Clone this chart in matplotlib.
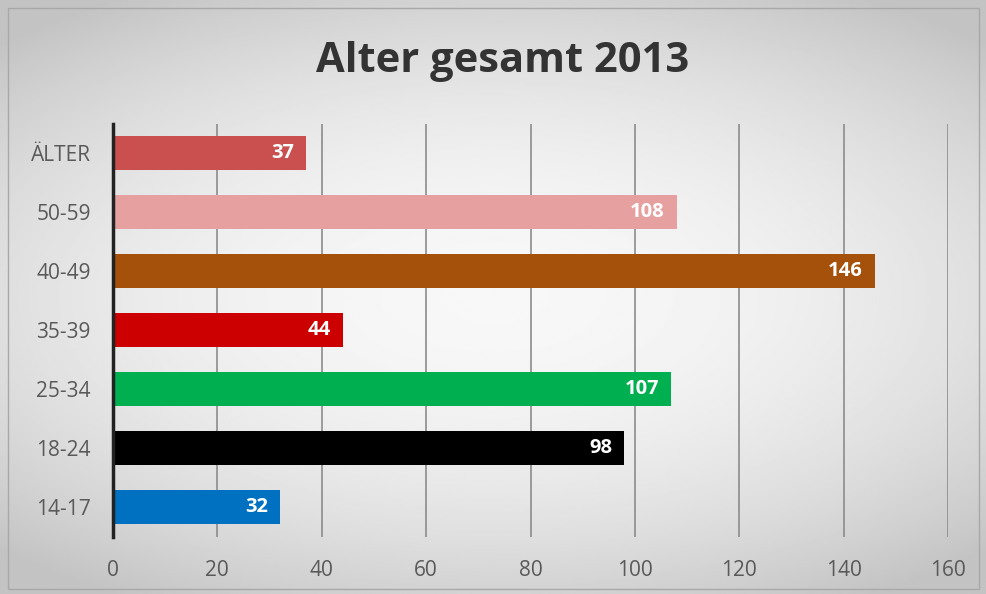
import numpy as np
import matplotlib.pyplot as plt
from matplotlib.patches import Rectangle

categories = ["14-17", "18-24", "25-34", "35-39", "40-49", "50-59", "ÄLTER"]
values = [32, 98, 107, 44, 146, 108, 37]
colors = ["#0070C0", "#000000", "#00B050", "#CC0000", "#A5500B", "#E6A0A0", "#C9504F"]
xticks = [0, 20, 40, 60, 80, 100, 120, 140, 160]

plt.rcParams["font.family"] = ["Open Sans", "DejaVu Sans"]

fig = plt.figure(figsize=(9.87, 5.94), dpi=100)

# soft radial grey background
bg = fig.add_axes([0, 0, 1, 1], zorder=-10)
yy, xx = np.mgrid[-1:1:300j, -1:1:500j]
r = np.sqrt((xx * 0.9) ** 2 + (yy * 1.1) ** 2)
bg.imshow(0.97 - 0.12 * np.clip(r, 0, 1.3) ** 2, cmap="gray", vmin=0, vmax=1,
          aspect="auto", extent=[0, 1, 0, 1])
bg.add_patch(Rectangle((0.008, 0.008), 0.984, 0.978, fill=False,
                       edgecolor="#a8a8a8", lw=1.0))
bg.set_xlim(0, 1)
bg.set_ylim(0, 1)
bg.axis("off")

ax = fig.add_axes([113 / 987, 1 - 536.5 / 594, (948 - 113) / 987, 413 / 594])
ax.patch.set_alpha(0)
y = np.arange(len(categories))
bars = ax.barh(y, values, height=0.58, color=colors, zorder=3)

for b, v in zip(bars, values):
    ax.text(v - 2.3, b.get_y() + b.get_height() / 2, str(v), ha="right",
            va="center", color="white", fontsize=14.5, fontweight="bold", zorder=4)

ax.set_xlim(0, 160)
ax.set_ylim(-0.5, len(categories) - 0.5)
ax.set_xticks(xticks)
ax.set_yticks(y)
ax.set_yticklabels(categories)
ax.tick_params(length=0, labelsize=15, labelcolor="#595959")
ax.tick_params(axis="x", pad=17)
ax.tick_params(axis="y", pad=16)
ax.grid(axis="x", color="#8c8c8c", lw=1.2, zorder=1)
for s in ["top", "right", "bottom"]:
    ax.spines[s].set_visible(False)
ax.spines["left"].set_color("#222222")
ax.spines["left"].set_linewidth(2.5)
ax.spines["left"].set_zorder(5)

fig.text(503 / 987, 1 - 62 / 594, "Alter gesamt 2013", ha="center", va="center",
         fontsize=30, fontweight="bold", color="#333333")

fig.savefig("out.png", dpi=100)
